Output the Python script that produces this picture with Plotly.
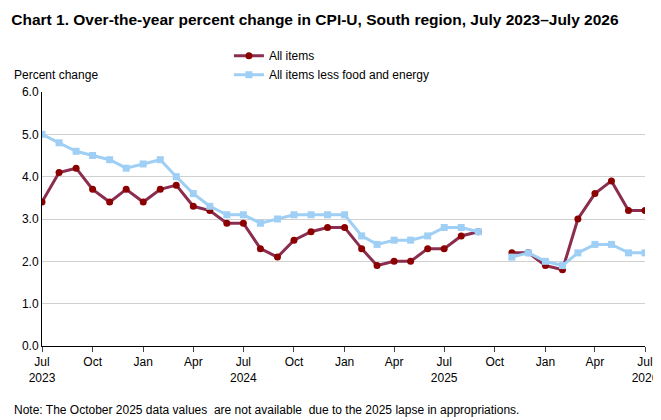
import pandas as pd
import plotly.graph_objects as go

months = pd.date_range("2023-07-01", "2026-07-01", freq="MS")

all_items = [3.4, 4.1, 4.2, 3.7, 3.4, 3.7, 3.4, 3.7, 3.8, 3.3, 3.2, 2.9, 2.9, 2.3, 2.1, 2.5,
             2.7, 2.8, 2.8, 2.3, 1.9, 2.0, 2.0, 2.3, 2.3, 2.6, 2.7, None, 2.2, 2.2, 1.9, 1.8,
             3.0, 3.6, 3.9, 3.2, 3.2]
core = [5.0, 4.8, 4.6, 4.5, 4.4, 4.2, 4.3, 4.4, 4.0, 3.6, 3.3, 3.1, 3.1, 2.9, 3.0, 3.1,
        3.1, 3.1, 3.1, 2.6, 2.4, 2.5, 2.5, 2.6, 2.8, 2.8, 2.7, None, 2.1, 2.2, 2.0, 1.9,
        2.2, 2.4, 2.4, 2.2, 2.2]

tick_vals = months[::3]
tick_text = ["Jul<br>2023", "Oct", "Jan", "Apr", "Jul<br>2024", "Oct", "Jan", "Apr",
             "Jul<br>2025", "Oct", "Jan", "Apr", "Jul<br>2026"]

fig = go.Figure()
fig.add_trace(go.Scatter(x=months, y=all_items, name="All items", mode="lines+markers",
                         line=dict(color="#8B2D4E", width=3),
                         marker=dict(color="#8B0000", size=7, symbol="circle")))
fig.add_trace(go.Scatter(x=months, y=core, name="All items less food and energy",
                         mode="lines+markers",
                         line=dict(color="#9FCFF5", width=3),
                         marker=dict(color="#9FCFF5", size=7, symbol="square")))

fig.update_layout(
    width=661, height=420,
    paper_bgcolor="white", plot_bgcolor="white",
    font=dict(family="Liberation Sans, Arial", size=12, color="black"),
    title=dict(text="<b>Chart 1. Over-the-year percent change in CPI-U, South region, July 2023\u2013July 2026</b>",
               x=0.005, y=0.985, xanchor="left", font=dict(size=15.5)),
    margin=dict(l=34, r=24, t=84, b=82, autoexpand=False),
    showlegend=True,
    legend=dict(x=0.31, y=1.2, xanchor="left", yanchor="top", bgcolor="rgba(0,0,0,0)",
                font=dict(size=12), tracegroupgap=0),
    xaxis=dict(tickvals=tick_vals, ticktext=tick_text, tickangle=0,
               range=[months[0], months[-1]], showgrid=False,
               showline=True, linecolor="black", ticks="outside", ticklen=5),
    yaxis=dict(range=[0, 6], dtick=1, tickformat=".1f", showgrid=True, gridcolor="#d0d0d0",
               showline=True, linecolor="black", zeroline=False),
    annotations=[
        dict(text="Percent change", xref="paper", yref="paper", x=-0.05, y=1.03,
             xanchor="left", yanchor="bottom", showarrow=False),
        dict(text="Note: The October 2025 data values  are not available  due to the 2025 lapse in appropriations.<br>Source: U.S. Bureau  of Labor Statistics.",
             xref="paper", yref="paper", x=-0.05, y=-0.215, xanchor="left", yanchor="top",
             align="left", showarrow=False),
    ],
)

fig.write_html("out.html")
